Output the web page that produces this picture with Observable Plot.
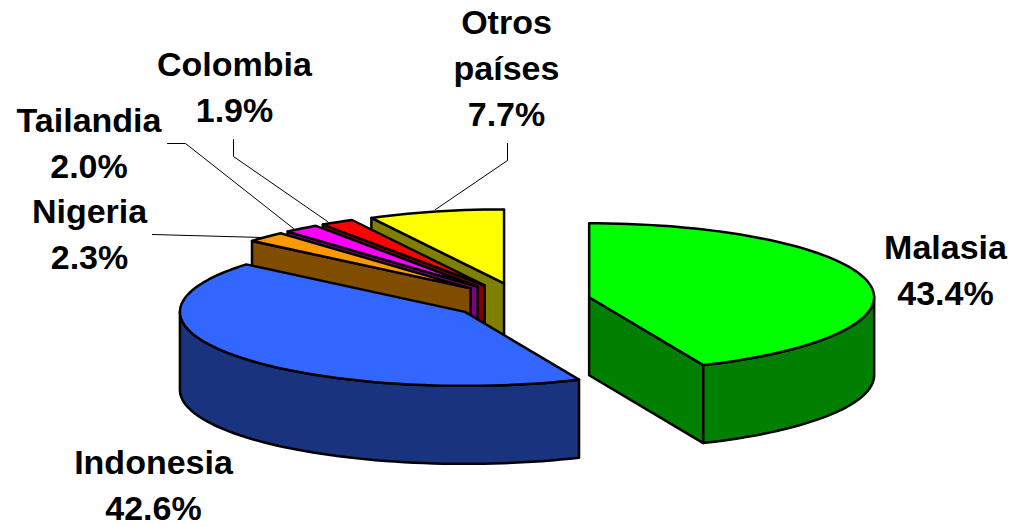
<!DOCTYPE html>
<html>
<head>
<meta charset="utf-8">
<style>html,body{margin:0;padding:0;background:#fff}svg{display:block}</style>
<script src="https://cdn.jsdelivr.net/npm/d3@7"></script>
<script src="https://cdn.jsdelivr.net/npm/@observablehq/plot@0.6"></script>
</head>
<body>
<script>
const countries = ["Malasia", "Indonesia", "Nigeria", "Tailandia", "Colombia", "Otros\npaíses"];
const shares = [43.4, 42.6, 2.3, 2.0, 1.9, 7.7];
const topColors = ["#00FF00", "#3366FF", "#FF9900", "#FF00FF", "#FF0000", "#FFFF00"];
const sideColors = ["#007F00", "#1A337F", "#804D00", "#800080", "#800000", "#808000"];

// pie projection
const cx0 = 520.3, cy0 = 300.5, rx = 285, ry = 74, depth = 78, explode = 0.245;
const total = d3.sum(shares);
const rad = d => d * Math.PI / 180;
let acc = 0;
const slices = shares.map((v, i) => {
  const a0 = acc / total * 360; acc += v; const a1 = acc / total * 360;
  const mid = rad((a0 + a1) / 2);
  return {i, a0, a1, cx: cx0 + explode * rx * Math.sin(mid), cy: cy0 - explode * ry * Math.cos(mid)};
});
const rim = (s, a, dz = 0) => ({x: s.cx + rx * Math.sin(rad(a)), y: s.cy - ry * Math.cos(rad(a)) + dz});
const arc = (s, a0, a1, dz = 0) => {
  const n = Math.max(2, Math.ceil((a1 - a0) / 2));
  return d3.range(n + 1).map(k => rim(s, a0 + (a1 - a0) * k / n, dz));
};
const faces = [];
const addFace = (name, color, pts) => {
  [...pts, pts[0]].forEach(p => faces.push({face: name, color, x: p.x, y: p.y}));
};
// back to front
for (const s of [5, 4, 3, 2, 1, 0].map(i => slices[i])) {
  const side = sideColors[s.i], top = topColors[s.i];
  const c = {x: s.cx, y: s.cy}, cb = {x: s.cx, y: s.cy + depth};
  if (s.a0 > 180 && s.a0 < 360) addFace(s.i + "start", side, [c, rim(s, s.a0), rim(s, s.a0, depth), cb]);
  if (s.a1 > 0 && s.a1 < 180) addFace(s.i + "end", side, [c, rim(s, s.a1), rim(s, s.a1, depth), cb]);
  const w0 = Math.max(s.a0, 90), w1 = Math.min(s.a1, 270);
  if (w1 > w0) addFace(s.i + "wall", side, [...arc(s, w0, w1), ...arc(s, w0, w1, depth).reverse()]);
  addFace(s.i + "top", top, [c, ...arc(s, s.a0, s.a1)]);
}

// hand-placed labels and leader lines, as in the reference
const labelX = [945, 153, 89, 88.5, 234, 506];
const labelY = [226, 441, 190, 99, 43, 1];
const labels = countries.map((c, i) => ({text: c + "\n" + shares[i].toFixed(1) + "%", x: labelX[i], y: labelY[i]}));
const leaders = [
  {id: "n", x: 152, y: 234}, {id: "n", x: 262, y: 237},
  {id: "t", x: 167, y: 143}, {id: "t", x: 185, y: 143}, {id: "t", x: 293, y: 228},
  {id: "c", x: 233, y: 139}, {id: "c", x: 233, y: 156}, {id: "c", x: 327, y: 221},
  {id: "o", x: 507, y: 143}, {id: "o", x: 507, y: 160}, {id: "o", x: 435, y: 209}
];

const chart = Plot.plot({
  width: 1011, height: 526, margin: 0,
  x: {domain: [0, 1011], range: [0, 1011], axis: null},
  y: {domain: [0, 526], range: [0, 526], axis: null},
  style: {background: "#fff"},
  marks: [
    Plot.line(leaders, {x: "x", y: "y", z: "id", stroke: "#000", strokeWidth: 1, curve: "linear"}),
    Plot.line(faces, {x: "x", y: "y", z: "face", fill: "color", stroke: "#000", strokeWidth: 2.5, strokeLinejoin: "round", curve: "linear"}),
    Plot.text(labels, {x: "x", y: "y", text: "text", lineAnchor: "top", textAnchor: "middle", lineHeight: 1.353,
      fontSize: 34, fontWeight: "bold", fontFamily: "Liberation Sans", fill: "#000"})
  ]
});
document.body.appendChild(chart);
</script>
</body>
</html>
